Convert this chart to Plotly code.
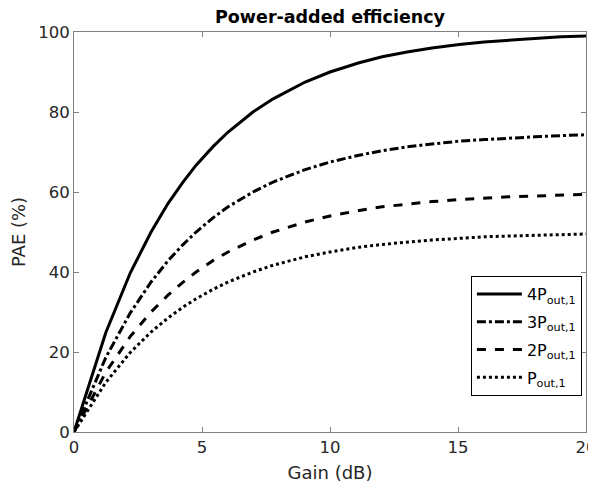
import plotly.graph_objects as go

# Gain axis (dB) and PAE (%)
gain_db = [0, 1.24, 2.2, 3.01, 3.67, 4.25, 4.77, 5.44, 6.02, 6.99, 7.78,
           9.03, 10.0, 11.14, 12.04, 13.01, 13.98, 15.05, 16.02, 16.99,
           17.99, 19.03, 20.0]

pae_4p = [0, 24.8, 39.8, 50.0, 57.1, 62.4, 66.7, 71.4, 75.0, 80.0, 83.3,
          87.5, 90.0, 92.3, 93.8, 95.0, 96.0, 96.9, 97.5, 98.0, 98.4, 98.8, 99.0]
pae_3p = [0, 18.6, 29.8, 37.5, 42.8, 46.8, 50.0, 53.6, 56.3, 60.0, 62.5,
          65.6, 67.5, 69.2, 70.3, 71.3, 72.0, 72.7, 73.1, 73.5, 73.8, 74.1, 74.3]
pae_2p = [0, 14.9, 23.9, 30.0, 34.2, 37.4, 40.0, 42.9, 45.0, 48.0, 50.0,
          52.5, 54.0, 55.4, 56.3, 57.0, 57.6, 58.1, 58.5, 58.8, 59.0, 59.3, 59.4]
pae_1p = [0, 12.4, 19.9, 25.0, 28.5, 31.2, 33.3, 35.7, 37.5, 40.0, 41.7,
          43.8, 45.0, 46.2, 46.9, 47.5, 48.0, 48.4, 48.8, 49.0, 49.2, 49.4, 49.5]

series = [
    ("4P<sub>out,1</sub>", pae_4p, "solid"),
    ("3P<sub>out,1</sub>", pae_3p, "dashdot"),
    ("2P<sub>out,1</sub>", pae_2p, "dash"),
    ("P<sub>out,1</sub>", pae_1p, "dot"),
]

fig = go.Figure()
for i, (name, vals, dash) in enumerate(series):
    fig.add_trace(go.Scatter(x=gain_db, y=vals, name=name, mode="lines",
                             legendgroup=str(i),
                             line=dict(color="black", width=3, dash=dash)))

font = "DejaVu Sans, sans-serif"
axis_style = dict(showline=True, linecolor="#808080", linewidth=1, mirror="ticks",
                  ticks="inside", ticklen=5, tickcolor="#808080",
                  showgrid=False, zeroline=False, automargin=False,
                  ticklabeloverflow="allow",
                  tickfont=dict(family=font, size=16.5, color="#262626"))

# the page body has an 8px margin, so the figure is 8px smaller each way
fig.update_layout(
    width=588, height=486,
    margin=dict(l=66, r=10, t=24, b=62),
    plot_bgcolor="white", paper_bgcolor="white",
    title=dict(text="<b>Power-added efficiency</b>", x=0.5, xref="paper",
               y=1 - 9 / 486, yref="container", yanchor="middle",
               font=dict(family=font, size=17.5, color="black")),
    legend=dict(x=0.992, y=0.09, xanchor="right", yanchor="bottom",
                bordercolor="black", borderwidth=1, bgcolor="white",
                font=dict(family=font, size=16, color="black"),
                tracegroupgap=4, itemwidth=45),
)
fig.update_xaxes(range=[0, 20], tickvals=[0, 5, 10, 15, 20],
                 title=dict(text="Gain (dB)", standoff=10,
                            font=dict(family=font, size=18, color="#262626")),
                 **axis_style)
fig.update_yaxes(range=[0, 100], tickvals=[0, 20, 40, 60, 80, 100],
                 title=dict(text="PAE (%)", standoff=8,
                            font=dict(family=font, size=18, color="#262626")),
                 **axis_style)

fig.write_html("out.html")
